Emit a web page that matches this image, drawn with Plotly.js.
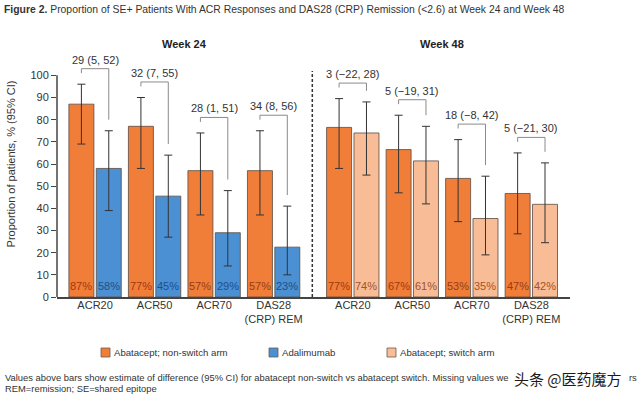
<!DOCTYPE html>
<html><head><meta charset="utf-8">
<script src="https://cdn.plot.ly/plotly-3.0.1.min.js"></script>
<style>html,body{margin:0;padding:0;background:#fff}</style>
</head><body><div id="chart" style="width:640px;height:397px"></div>
<script>
// ---- data ----
const categories = ['ACR20', 'ACR50', 'ACR70', 'DAS28<br>(CRP) REM'];
const panels = ['Week 24', 'Week 48'];
const seriesNames = ['Abatacept; non-switch arm', 'Adalimumab', 'Abatacept; switch arm'];

const w24NonSwitch = [87, 77, 57, 57];
const w24NonSwitchLo = [69, 58, 37, 37];
const w24NonSwitchHi = [96, 90, 74, 75];
const w24NonSwitchLbl = ['87%', '77%', '57%', '57%'];

const w24Adalimumab = [58, 45.5, 29, 22.5];
const w24AdalimumabLo = [39, 27, 14, 10];
const w24AdalimumabHi = [75, 64, 48, 41];
const w24AdalimumabLbl = ['58%', '45%', '29%', '23%'];

const w48NonSwitch = [76.5, 66.5, 53.5, 46.7];
const w48NonSwitchLo = [58, 47, 34, 28.5];
const w48NonSwitchHi = [89.5, 82, 71, 65];
const w48NonSwitchLbl = ['77%', '67%', '53%', '47%'];

const w48Switch = [74, 61.4, 35.4, 41.8];
const w48SwitchLo = [55, 42, 19, 24.5];
const w48SwitchHi = [88, 77, 54.5, 60.5];
const w48SwitchLbl = ['74%', '61%', '35%', '42%'];

const w24Diff = ['29 (5, 52)', '32 (7, 55)', '28 (1, 51)', '34 (8, 56)'];
const w48Diff = ['3 (\u221222, 28)', '5 (\u221219, 31)', '18 (\u22128, 42)', '5 (\u221221, 30)'];

const yTicks = [0, 10, 20, 30, 40, 50, 60, 70, 80, 90, 100];

const titleText = '<b>Figure 2.</b> Proportion of SE+ Patients With ACR Responses and DAS28 (CRP) Remission (<2.6) at Week 24 and Week 48';
const footLine1 = 'Values above bars show estimate of difference (95% CI) for abatacept non-switch vs abatacept switch. Missing values we';
const footLine1End = 'rs';
const footLine2 = 'REM=remission; SE=shared epitope';
const watermark = '头条 @医药魔方';

// ---- styling ----
const C_OR = '#F07E38', C_BL = '#4B90D3', C_LT = '#F8BD96';
const T_OR = '#9C3A12', T_BL = '#1E4F8C', T_LT = '#A4522A';
const FONT = 'Liberation Sans, Arial, sans-serif';
const W = 640, H = 397, ML = 57, MR = 70, MT = 31, MB = 100;
const XR = [-0.64, 7.98];
const W48OFF = 4.33;
const px2x = px => (px - ML) / (W - ML - MR);
const py2y = py => (H - MB - py) / (H - MT - MB);

const traces = [];
const annotations = [];
const shapes = [];

function addBar(xs, v, lo, hi, color, off, name) {
  traces.push({
    type: 'bar', x: xs, y: v, name: name, offset: off, width: 0.42,
    marker: {color: color, line: {color: '#5a4a40', width: 0.8}},
    error_y: {type: 'data', symmetric: false,
      array: v.map((d, i) => hi[i] - d), arrayminus: v.map((d, i) => d - lo[i]),
      color: '#333', thickness: 1, width: 4},
    showlegend: false, hoverinfo: 'skip'
  });
}
function addPct(xs, lbl, off, color) {
  xs.forEach((x, i) => annotations.push({
    x: x + off + 0.21, y: 0, xref: 'x', yref: 'y', text: lbl[i], showarrow: false,
    yanchor: 'bottom', yshift: 3, font: {family: FONT, size: 11, color: color}
  }));
}
function addBrackets(xs, hiA, hiB, labels) {
  xs.forEach((x, i) => {
    const xL = x - 0.23, xR = x + 0.23;
    const top = Math.max(hiA[i], hiB[i]) + 7;
    const ln = {type: 'line', xref: 'x', yref: 'y', line: {color: '#8a8a8a', width: 1}};
    shapes.push(Object.assign({x0: xL, x1: xL, y0: hiA[i] + 5, y1: top}, ln));
    shapes.push(Object.assign({x0: xL, x1: xR, y0: top, y1: top}, ln));
    shapes.push(Object.assign({x0: xR, x1: xR, y0: hiB[i] + 5, y1: top}, ln));
    annotations.push({x: x, y: top, xref: 'x', yref: 'y', text: labels[i], showarrow: false,
      yanchor: 'bottom', yshift: 1, font: {family: FONT, size: 11, color: '#333'}});
  });
}

const x24 = categories.map((c, i) => i);
const x48 = categories.map((c, i) => i + W48OFF);

addBar(x24, w24NonSwitch, w24NonSwitchLo, w24NonSwitchHi, C_OR, -0.44, seriesNames[0]);
addBar(x24, w24Adalimumab, w24AdalimumabLo, w24AdalimumabHi, C_BL, 0.02, seriesNames[1]);
addBar(x48, w48NonSwitch, w48NonSwitchLo, w48NonSwitchHi, C_OR, -0.44, seriesNames[0]);
addBar(x48, w48Switch, w48SwitchLo, w48SwitchHi, C_LT, 0.02, seriesNames[2]);

addPct(x24, w24NonSwitchLbl, -0.44, T_OR);
addPct(x24, w24AdalimumabLbl, 0.02, T_BL);
addPct(x48, w48NonSwitchLbl, -0.44, T_OR);
addPct(x48, w48SwitchLbl, 0.02, T_LT);

addBrackets(x24, w24NonSwitchHi, w24AdalimumabHi, w24Diff);
addBrackets(x48, w48NonSwitchHi, w48SwitchHi, w48Diff);

// panel titles
[x24, x48].forEach((xs, k) => annotations.push({
  x: (xs[0] + xs[xs.length - 1]) / 2, y: py2y(44), xref: 'x', yref: 'paper',
  yanchor: 'middle', text: '<b>' + panels[k] + '</b>', showarrow: false,
  font: {family: FONT, size: 11, color: '#222'}
}));

// y axis line (0-100) and dashed separator
shapes.push({type: 'line', xref: 'paper', yref: 'y', x0: 0, x1: 0, y0: 0, y1: 100,
  line: {color: '#444', width: 1.5}});
shapes.push({type: 'line', xref: 'x', yref: 'y', x0: 3.65, x1: 3.65, y0: 0, y1: 102,
  line: {color: '#333', width: 1.5, dash: '3px,2px'}});

// legend (manual)
const legColors = [C_OR, C_BL, C_LT];
const legPx = [101, 269, 387];
legPx.forEach((p, i) => {
  shapes.push({type: 'rect', xref: 'paper', yref: 'paper',
    x0: px2x(p), x1: px2x(p + 9), y0: py2y(357), y1: py2y(348),
    fillcolor: legColors[i], line: {color: '#6a5a50', width: 0.8}});
  annotations.push({x: px2x(p + 11), y: py2y(352.5), xref: 'paper', yref: 'paper',
    xanchor: 'left', yanchor: 'middle', text: seriesNames[i], showarrow: false,
    font: {family: FONT, size: 9.6, color: '#333'}});
});

// footnote
annotations.push({x: px2x(3), y: py2y(377), xref: 'paper', yref: 'paper', xanchor: 'left',
  yanchor: 'middle', text: footLine1, showarrow: false, font: {family: FONT, size: 9.4, color: '#333'}});
annotations.push({x: px2x(639), y: py2y(377), xref: 'paper', yref: 'paper', xanchor: 'right',
  yanchor: 'middle', text: footLine1End, showarrow: false, font: {family: FONT, size: 9.4, color: '#333'}});
annotations.push({x: px2x(3), y: py2y(388), xref: 'paper', yref: 'paper', xanchor: 'left',
  yanchor: 'middle', text: footLine2, showarrow: false, font: {family: FONT, size: 9.4, color: '#333'}});
// watermark
annotations.push({x: px2x(568), y: py2y(378), xref: 'paper', yref: 'paper', xanchor: 'center',
  yanchor: 'middle', text: watermark, showarrow: false,
  font: {family: 'Noto Sans CJK SC', size: 15, color: '#1a1a1a'}});

const layout = {
  width: W, height: H,
  margin: {l: ML, r: MR, t: MT, b: MB},
  paper_bgcolor: '#fff', plot_bgcolor: '#fff',
  barmode: 'overlay',
  title: {text: titleText, x: 4 / W, xanchor: 'left', xref: 'container',
    y: 1 - 9 / H, yanchor: 'middle', yref: 'container',
    font: {family: FONT, size: 10.4, color: '#333'}},
  xaxis: {range: XR, tickvals: x24.concat(x48), ticktext: categories.concat(categories),
    showline: true, linecolor: '#444', linewidth: 1.5, ticks: '', showgrid: false, zeroline: false,
    ticklabelstandoff: -3,
    tickfont: {family: FONT, size: 11, color: '#333'}, fixedrange: true},
  yaxis: {range: [0, 120], tickvals: yTicks, ticks: 'outside', ticklen: 5, tickcolor: '#444',
    tickwidth: 1, showline: false, showgrid: false, zeroline: false,
    tickfont: {family: FONT, size: 11, color: '#333'},
    title: {text: 'Proportion of patients, % (95% CI)', standoff: 12,
      font: {family: FONT, size: 11, color: '#333'}}, automargin: false},
  shapes: shapes, annotations: annotations, showlegend: false
};

Plotly.newPlot('chart', traces, layout, {staticPlot: true, displayModeBar: false});
</script></body></html>
